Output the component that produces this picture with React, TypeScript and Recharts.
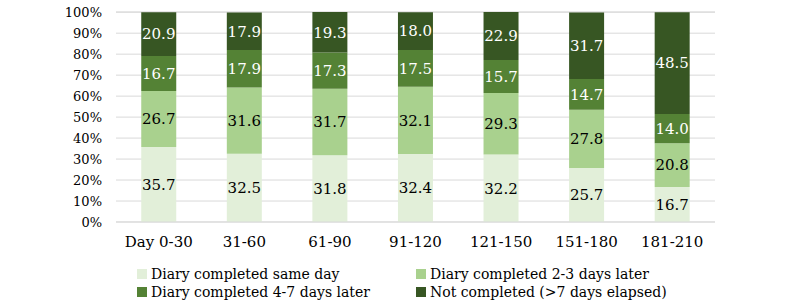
import React from "react";
import { BarChart, Bar, XAxis, YAxis, CartesianGrid, LabelList } from "recharts";

const periods = ["Day 0-30", "31-60", "61-90", "91-120", "121-150", "151-180", "181-210"];
const sameDay = [35.7, 32.5, 31.8, 32.4, 32.2, 25.7, 16.7];
const twoToThree = [26.7, 31.6, 31.7, 32.1, 29.3, 27.8, 20.8];
const fourToSeven = [16.7, 17.9, 17.3, 17.5, 15.7, 14.7, 14.0];
const notCompleted = [20.9, 17.9, 19.3, 18.0, 22.9, 31.7, 48.5];
const yTicks = [0, 10, 20, 30, 40, 50, 60, 70, 80, 90, 100];

const series = [
  { key: "same", name: "Diary completed same day", color: "#e2efd9", text: "#000" },
  { key: "two", name: "Diary completed 2-3 days later", color: "#a9d18e", text: "#000" },
  { key: "four", name: "Diary completed 4-7 days later", color: "#548235", text: "#fff" },
  { key: "not", name: "Not completed (>7 days elapsed)", color: "#375623", text: "#fff" },
];

const data = periods.map((p, i) => ({
  period: p,
  same: sameDay[i],
  two: twoToThree[i],
  four: fourToSeven[i],
  not: notCompleted[i],
}));

// Liberation Serif isn't picked up here, DejaVu Serif is the closest serif available
const font = "'DejaVu Serif'";

function LegendItem({ color, name }: { color: string; name: string }) {
  return (
    <div style={{ display: "flex", alignItems: "center", height: 18 }}>
      <span style={{ width: 10, height: 10, background: color, marginRight: 4, display: "inline-block" }} />
      <span>{name}</span>
    </div>
  );
}

export default function App() {
  return (
    <div style={{ position: "absolute", left: 0, top: 0, width: 800, height: 304, background: "#fff", fontFamily: font }}>
      <BarChart
        width={800}
        height={304}
        data={data}
        margin={{ top: 12, right: 85, left: 0, bottom: 52 }}
        barCategoryGap="29.5%"
        style={{ fontFamily: font }}
      >
        <CartesianGrid vertical={false} stroke="#d9d9d9" />
        <XAxis
          dataKey="period"
          axisLine={{ stroke: "#d9d9d9" }}
          tickLine={false}
          tickSize={0}
          tickMargin={14}
          height={30}
          interval={0}
          tick={{ fill: "#000", fontSize: 15, fontFamily: font }}
        />
        <YAxis
          domain={[0, 100]}
          ticks={yTicks}
          interval={0}
          width={116}
          axisLine={false}
          tickLine={false}
          tickSize={0}
          tickMargin={14}
          tickFormatter={(v: number) => `${v}%`}
          tick={{ fill: "#000", fontSize: 13, fontFamily: font }}
        />
        {series.map((s) => (
          <Bar key={s.key} dataKey={s.key} name={s.name} stackId="a" fill={s.color} isAnimationActive={false}>
            <LabelList
              dataKey={s.key}
              position="center"
              formatter={(v: number) => v.toFixed(1)}
              style={{ fill: s.text, fontSize: 15, fontFamily: font }}
            />
          </Bar>
        ))}
      </BarChart>
      <div
        style={{
          position: "absolute",
          left: 137,
          top: 265,
          display: "grid",
          gridTemplateColumns: "279px auto",
          fontSize: 14,
          color: "#000",
          lineHeight: "18px",
        }}
      >
        {series.map((s) => (
          <LegendItem key={s.key} color={s.color} name={s.name} />
        ))}
      </div>
    </div>
  );
}
